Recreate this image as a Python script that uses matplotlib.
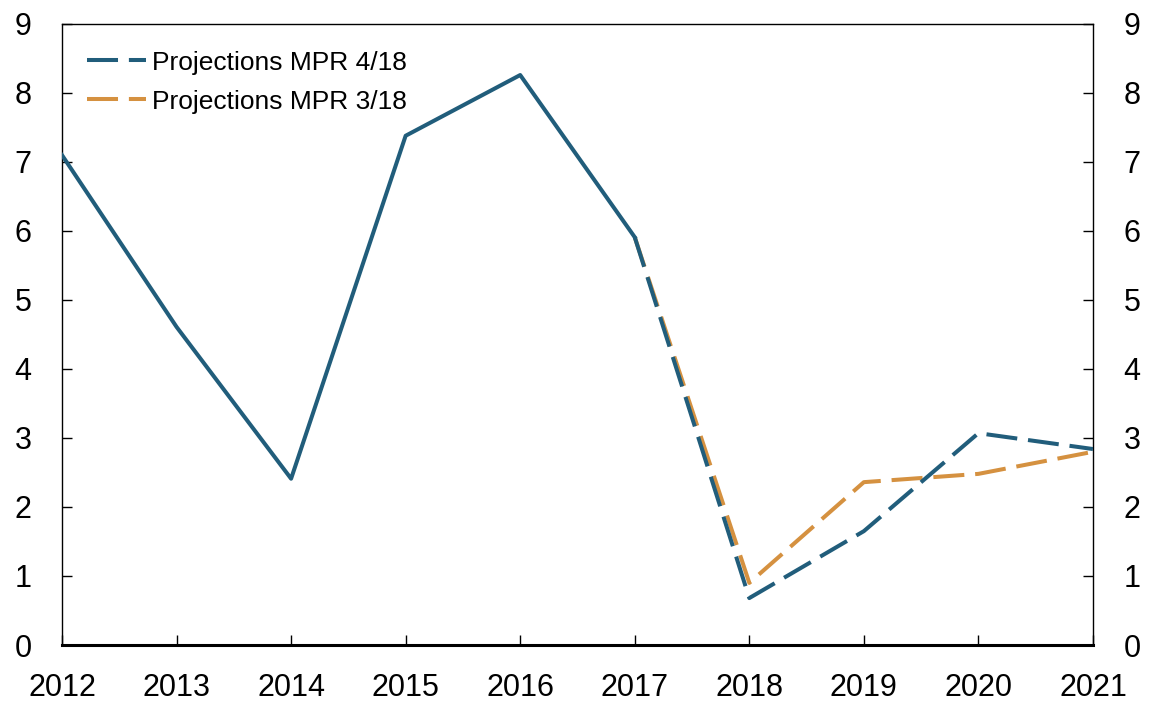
import matplotlib
matplotlib.use("Agg")
import matplotlib.pyplot as plt

plt.rcParams['font.family'] = ['Liberation Sans', 'DejaVu Sans']

years = [2012, 2013, 2014, 2015, 2016, 2017, 2018, 2019, 2020, 2021]
history = [7.10, 4.61, 2.41, 7.38, 8.26, 5.91]
hist_years = years[:6]
proj_years = [2017, 2018, 2019, 2020, 2021]
mpr_4_18 = [5.91, 0.68, 1.65, 3.07, 2.84]
mpr_3_18 = [5.91, 0.90, 2.36, 2.48, 2.80]

blue = '#215d7b'
orange = '#d59140'
lw = 2.9
dash = (7.7, 2.7)

fig = plt.figure(figsize=(11.5, 7.03), dpi=100)
ax = fig.add_axes([0.0539, 0.0825, 0.8965, 0.8834])

ax.plot(proj_years, mpr_3_18, color=orange, lw=lw, dashes=dash,
        dash_capstyle='butt', label='Projections MPR 3/18', zorder=2)
ax.plot(proj_years, mpr_4_18, color=blue, lw=lw, dashes=dash,
        dash_capstyle='butt', label='Projections MPR 4/18', zorder=3)
ax.plot(hist_years, history, color=blue, lw=lw, zorder=4)

ax.set_xlim(2012, 2021)
ax.set_ylim(0, 9)
ax.set_xticks(years)
ax.set_yticks(range(10))
ax.tick_params(axis='x', direction='in', length=7, width=1, pad=20, labelsize=22)
ax.tick_params(axis='y', direction='in', length=7, width=1, labelsize=22,
               left=True, right=True, labelleft=True, labelright=True, pad=22)
for s in ['left', 'right', 'top']:
    ax.spines[s].set_linewidth(1.0)
ax.spines['bottom'].set_linewidth(2.2)

handles, labels = ax.get_legend_handles_labels()
leg = ax.legend(handles[::-1], labels[::-1], loc='upper left',
                bbox_to_anchor=(0.014, 0.974), frameon=False, fontsize=19,
                handlelength=2.25, handletextpad=0.2, labelspacing=0.57,
                borderaxespad=0.0)

fig.savefig('out.png', dpi=100)
